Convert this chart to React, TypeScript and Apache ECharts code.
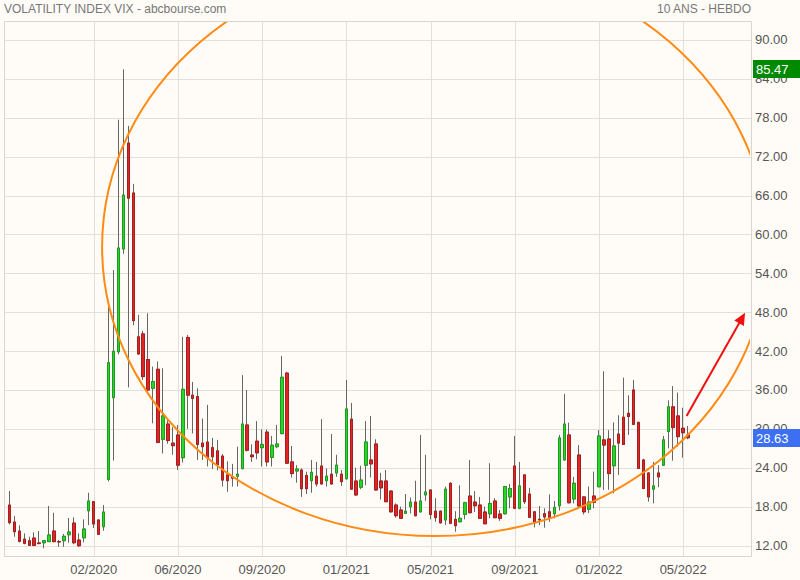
import React, { useEffect, useRef } from "react";
import * as echarts from "echarts";

// ---------- data ----------
const START_DATE_UTC = Date.UTC(2019, 9, 7); // first weekly bar
const WEEK_COUNT = 138;
const PAD_SLOTS = 12; // empty slots at the right of the chart
const LABEL_EVERY = 17;

const openV = [
  18.25, 15.63, 14.24, 13.0, 12.74, 13.16, 12.4, 12.43, 12.6, 14.24,
  12.6, 12.74, 13.67, 15.47, 12.85, 13.2, 17.37, 18.76, 15.94, 14.9,
  22.2, 34.8, 41.9, 57.75, 74.1, 66.4, 44.2, 44.65, 40.7, 36.26,
  39.2, 28.4, 30.75, 27.8, 29.06, 25.55, 44.1, 35.2, 35.0, 27.8,
  27.97, 27.1, 26.6, 25.8, 22.9, 22.6, 22.7, 23.85, 30.6, 25.97,
  28.1, 27.1, 29.5, 25.6, 27.25, 29.26, 38.6, 24.9, 23.5, 23.65,
  22.8, 22.0, 22.7, 24.27, 22.0, 23.0, 23.2, 23.0, 22.3, 31.5,
  21.96, 21.0, 24.4, 25.2, 27.67, 21.96, 21.96, 20.4, 18.25, 17.48,
  16.97, 17.99, 18.7, 17.2, 19.8, 20.57, 17.3, 17.3, 15.94, 21.6,
  16.04, 15.67, 16.8, 19.64, 18.7, 18.25, 17.17, 16.9, 18.87, 16.86,
  16.9, 19.5, 24.27, 17.74, 22.9, 19.95, 17.2, 16.05, 16.9, 17.2,
  16.9, 18.14, 25.2, 29.06, 19.18, 25.97, 19.5, 17.6, 19.64, 21.07,
  28.3, 28.44, 24.3, 29.2, 31.8, 32.4, 36.0, 31.0, 25.2, 23.2,
  20.7, 23.2, 24.4, 29.6, 33.4, 32.0, 30.1, 29.06,
];
const closeV = [
  15.52, 14.13, 12.65, 12.34, 12.03, 12.03, 12.3, 12.74, 13.62, 12.6,
  12.55, 13.42, 14.08, 12.43, 11.97, 14.55, 18.87, 15.32, 13.73, 17.17,
  40.2, 41.97, 57.9, 66.07, 65.6, 46.7, 41.56, 38.06, 36.0, 37.3,
  27.9, 32.0, 28.2, 27.4, 24.4, 36.1, 35.2, 34.7, 27.6, 27.25,
  25.55, 25.7, 24.5, 22.1, 22.0, 22.4, 23.0, 30.75, 26.7, 25.7,
  26.3, 27.6, 24.9, 27.47, 27.67, 37.96, 24.7, 23.1, 23.8, 20.77,
  20.77, 23.3, 21.5, 21.5, 22.7, 21.5, 24.4, 21.85, 33.07, 20.7,
  19.8, 22.1, 27.97, 24.6, 20.57, 20.9, 18.76, 17.2, 16.6, 16.2,
  17.3, 18.7, 16.6, 18.87, 20.26, 16.8, 16.3, 15.5, 20.7, 15.43,
  15.06, 16.2, 18.6, 17.06, 18.14, 16.2, 15.36, 18.5, 16.3, 16.2,
  21.1, 20.8, 17.74, 21.2, 18.76, 16.35, 15.5, 15.95, 16.4, 16.35,
  17.9, 28.6, 30.75, 18.6, 21.6, 18.1, 17.2, 18.7, 18.67, 28.9,
  27.5, 23.1, 27.36, 27.8, 27.6, 31.9, 30.7, 23.9, 20.8, 19.5,
  21.2, 22.6, 28.3, 33.4, 30.2, 28.8, 29.4, 28.63,
];
const lowV = [
  15.27, 13.36, 12.49, 12.18, 11.95, 11.9, 12.2, 11.57, 12.55, 12.5,
  11.8, 11.8, 12.43, 12.2, 11.8, 12.5, 15.16, 14.7, 13.67, 14.28,
  21.9, 25.1, 41.5, 57.0, 36.4, 46.0, 41.4, 37.55, 35.5, 30.86,
  27.8, 26.2, 27.7, 26.0, 23.65, 24.8, 30.0, 29.3, 25.2, 25.2,
  24.2, 23.8, 23.6, 21.1, 20.3, 21.1, 21.1, 23.8, 26.5, 24.9,
  25.3, 24.2, 24.2, 24.2, 27.0, 29.2, 24.6, 22.5, 21.7, 19.5,
  19.95, 20.15, 21.1, 21.4, 21.1, 21.4, 22.6, 21.2, 22.2, 20.6,
  19.7, 20.7, 21.3, 22.5, 20.5, 19.1, 18.7, 17.1, 16.3, 16.1,
  16.86, 16.97, 16.5, 17.1, 18.9, 16.04, 15.67, 15.4, 15.16, 15.3,
  14.13, 15.6, 16.04, 17.0, 17.17, 16.1, 15.3, 16.2, 16.2, 15.8,
  16.8, 17.74, 17.6, 17.6, 18.4, 16.3, 14.8, 15.16, 14.75, 15.67,
  16.2, 17.4, 25.1, 18.5, 18.5, 18.0, 16.8, 17.0, 17.74, 21.0,
  20.57, 20.6, 20.06, 22.9, 27.5, 29.06, 30.6, 23.8, 20.7, 18.76,
  18.5, 21.0, 24.3, 27.0, 25.1, 27.25, 25.55, 28.4,
];
const highV = [
  20.41, 16.55, 15.12, 13.88, 13.36, 14.04, 14.24, 12.85, 18.1, 17.06,
  12.85, 13.78, 16.25, 16.35, 13.88, 16.04, 20.15, 18.87, 16.09, 18.25,
  48.86, 54.5, 77.7, 85.47, 76.75, 67.8, 47.6, 45.1, 47.84, 39.6,
  40.4, 39.35, 31.4, 30.3, 30.6, 44.2, 44.5, 37.24, 36.26, 31.6,
  33.7, 28.6, 28.3, 26.1, 25.0, 24.6, 27.25, 38.3, 36.0, 27.6,
  31.2, 29.9, 29.9, 28.9, 30.6, 41.25, 38.8, 27.36, 24.4, 23.9,
  23.4, 25.2, 24.9, 31.5, 23.9, 29.2, 26.0, 23.65, 37.55, 34.0,
  24.0, 24.3, 31.2, 32.0, 28.4, 23.2, 23.65, 20.5, 18.5, 18.0,
  19.95, 19.4, 22.0, 29.06, 26.0, 20.6, 19.3, 17.4, 21.1, 21.76,
  17.3, 21.3, 18.76, 25.2, 20.4, 19.5, 18.0, 24.7, 19.3, 17.48,
  21.2, 21.5, 28.9, 24.9, 22.95, 20.9, 17.3, 18.1, 17.74, 19.9,
  18.87, 29.06, 35.4, 30.96, 22.6, 27.5, 19.6, 21.1, 23.4, 29.8,
  38.9, 29.8, 31.0, 32.1, 37.9, 35.2, 37.55, 31.1, 25.4, 23.3,
  24.9, 24.4, 28.9, 34.4, 36.6, 35.6, 33.27, 30.45,
];

const yTicks = [12, 18, 24, 30, 36, 42, 48, 54, 60, 66, 72, 78, 84, 90];
const Y_MIN = 10.23;
const Y_MAX = 92.93;

// annotation (ellipse + arrow) in data units: [bar index, value]
const ellipseCenter = [85.9, 58.06];
const ellipseRadius = [67.2, 44.6];
const arrowFrom = [136.7, 32.0];
const arrowTo = [148.5, 47.9];

const TITLE_LEFT = "VOLATILITY INDEX VIX - abcbourse.com";
const TITLE_RIGHT = "10 ANS - HEBDO";

// ---------- layout / style ----------
const W = 800;
const H = 580;
const BG = "#fffcf7";
const GRID_COLOR = "#e3dfda";
const FRAME = { left: 4, top: 21, right: 752, bottom: 557 };
const FONT = "'Liberation Sans', Arial, Helvetica, sans-serif";
const UP = "#2ad42a";
const UP_BORDER = "#1c9c1c";
const DOWN = "#e02525";
const DOWN_BORDER = "#a71c1c";
const WICK = "#666666";

const categories: string[] = [];
for (let i = 0; i < WEEK_COUNT; i++) {
  const d = new Date(START_DATE_UTC + i * 7 * 86400000);
  categories.push(d.toISOString().slice(0, 10));
}
for (let i = 0; i < PAD_SLOTS; i++) categories.push("pad" + i);
const SLOT_COUNT = categories.length;

const labelIndices: number[] = [];
for (let i = LABEL_EVERY; i < WEEK_COUNT; i += LABEL_EVERY) labelIndices.push(i);

export default function App() {
  const ref = useRef<HTMLDivElement>(null);

  useEffect(() => {
    if (!ref.current) return;
    const chart = echarts.init(ref.current, undefined, { renderer: "svg" });

    const candleData = openV.map((o, i) => [o, closeV[i], lowV[i], highV[i]]);
    const bodyData = openV.map((o, i) => [
      o,
      closeV[i],
      Math.min(o, closeV[i]),
      Math.max(o, closeV[i]),
    ]);

    const gridRender = (params: any, api: any) => {
      const children: any[] = [];
      yTicks.forEach((v) => {
        const y = Math.round(api.coord([0, v])[1]) + 0.5;
        children.push({
          type: "line",
          shape: { x1: FRAME.left, y1: y, x2: FRAME.right, y2: y },
          style: { stroke: GRID_COLOR, lineWidth: 1 },
        });
      });
      labelIndices.forEach((idx) => {
        const x = Math.round(api.coord([idx, 50])[0]) + 0.5;
        children.push({
          type: "line",
          shape: { x1: x, y1: FRAME.top, x2: x, y2: FRAME.bottom },
          style: { stroke: GRID_COLOR, lineWidth: 1 },
        });
      });
      return { type: "group", children };
    };

    const overlayRender = (params: any, api: any) => {
      if (params.dataIndex === 0) {
        const c = api.coord(ellipseCenter);
        const p = api.coord([
          ellipseCenter[0] + ellipseRadius[0],
          ellipseCenter[1] - ellipseRadius[1],
        ]);
        return {
          type: "ellipse",
          shape: { cx: c[0], cy: c[1], rx: p[0] - c[0], ry: p[1] - c[1] },
          style: { fill: "none", stroke: "#ff8a14", lineWidth: 2 },
        };
      }
      const a = api.coord(arrowFrom);
      const b = api.coord(arrowTo);
      const dx = b[0] - a[0];
      const dy = b[1] - a[1];
      const len = Math.sqrt(dx * dx + dy * dy);
      const ux = dx / len;
      const uy = dy / len;
      const headL = 12;
      const headW = 5.5;
      const bx = b[0] - ux * headL;
      const by = b[1] - uy * headL;
      return {
        type: "group",
        children: [
          {
            type: "line",
            shape: { x1: a[0], y1: a[1], x2: bx + ux * 2, y2: by + uy * 2 },
            style: { stroke: "#f01010", lineWidth: 2 },
          },
          {
            type: "polygon",
            shape: {
              points: [
                [b[0], b[1]],
                [bx - uy * headW, by + ux * headW],
                [bx + uy * headW, by - ux * headW],
              ],
            },
            style: { fill: "#f01010" },
          },
        ],
      };
    };

    const gridLeft = 7;
    const gridWidth = 743;

    chart.setOption({
      animation: false,
      backgroundColor: BG,
      grid: {
        left: gridLeft,
        top: FRAME.top,
        width: gridWidth,
        height: FRAME.bottom - FRAME.top,
        containLabel: false,
      },
      xAxis: [
        {
          type: "category",
          data: categories,
          boundaryGap: true,
          axisLine: { show: false },
          axisTick: { show: false },
          splitLine: { show: false },
          axisLabel: {
            interval: (index: number) =>
              index > 0 && index < WEEK_COUNT && index % LABEL_EVERY === 0,
            formatter: (v: string) => {
              const parts = v.split("-");
              return parts[1] + "/" + parts[0];
            },
            color: "#555555",
            fontSize: 13,
            fontFamily: FONT,
            margin: 6,
          },
        },
        {
          type: "value",
          min: -0.5,
          max: SLOT_COUNT - 0.5,
          show: false,
        },
      ],
      yAxis: {
        type: "value",
        position: "right",
        min: Y_MIN,
        max: Y_MAX,
        axisLine: { show: false },
        axisTick: { show: false },
        splitLine: { show: false },
        axisLabel: {
          customValues: yTicks,
          formatter: (v: number) => v.toFixed(2),
          color: "#555555",
          fontSize: 13,
          fontFamily: FONT,
          margin: 5,
          padding: [0, 0, 4, 0],
        },
      },
      series: [
        {
          type: "custom",
          xAxisIndex: 1,
          z: 1,
          silent: true,
          clip: false,
          renderItem: gridRender,
          data: [[0, 50]],
        },
        {
          type: "candlestick",
          xAxisIndex: 0,
          z: 2,
          barWidth: 3,
          silent: true,
          itemStyle: {
            color: WICK,
            color0: WICK,
            borderColor: WICK,
            borderColor0: WICK,
            borderColorDoji: WICK,
            borderWidth: 1,
          },
          data: candleData,
        },
        {
          type: "candlestick",
          xAxisIndex: 0,
          z: 3,
          barWidth: 3,
          silent: true,
          itemStyle: {
            color: UP,
            color0: DOWN,
            borderColor: UP_BORDER,
            borderColor0: DOWN_BORDER,
            borderColorDoji: DOWN_BORDER,
            borderWidth: 1,
          },
          data: bodyData,
        },
        {
          type: "custom",
          xAxisIndex: 1,
          z: 5,
          silent: true,
          clip: true,
          renderItem: overlayRender,
          data: [ellipseCenter, arrowTo],
        },
      ],
    });

    const maxHigh = Math.max(...highV);
    const lastClose = closeV[closeV.length - 1];
    const yMax = chart.convertToPixel({ yAxisIndex: 0 }, maxHigh) as number;
    const yLast = chart.convertToPixel({ yAxisIndex: 0 }, lastClose) as number;

    const tag = (y: number, value: number, color: string) => ({
      type: "group",
      x: FRAME.right + 1,
      y: Math.round(y) - 9,
      z: 50,
      children: [
        {
          type: "rect",
          shape: { x: 0, y: 0, width: W - FRAME.right - 1, height: 18 },
          style: { fill: color },
          z: 50,
        },
        {
          type: "text",
          x: 3,
          y: 9.5,
          z: 51,
          style: {
            text: value.toFixed(2),
            fill: "#ffffff",
            font: "13px " + FONT,
            textVerticalAlign: "middle",
            verticalAlign: "middle",
          },
        },
      ],
    });

    chart.setOption({
      graphic: [
        {
          type: "rect",
          z: 40,
          silent: true,
          shape: {
            x: FRAME.left + 0.5,
            y: FRAME.top + 0.5,
            width: FRAME.right - FRAME.left - 1,
            height: FRAME.bottom - FRAME.top - 1,
          },
          style: { fill: "none", stroke: "#d9d6d2", lineWidth: 1 },
        },
        {
          type: "text",
          x: 4,
          y: 9,
          z: 50,
          style: {
            text: TITLE_LEFT,
            fill: "#777777",
            font: "12px " + FONT,
            textVerticalAlign: "middle",
            verticalAlign: "middle",
          },
        },
        {
          type: "text",
          x: 751,
          y: 9,
          z: 50,
          style: {
            text: TITLE_RIGHT,
            fill: "#777777",
            font: "12px " + FONT,
            textAlign: "right",
            align: "right",
            textVerticalAlign: "middle",
            verticalAlign: "middle",
          },
        },
        tag(yMax, maxHigh, "#008a00"),
        tag(yLast, lastClose, "#3d6ff2"),
      ],
    });

    return () => {
      chart.dispose();
    };
  }, []);

  return (
    <div
      style={{
        position: "absolute",
        left: 0,
        top: 0,
        width: W,
        height: H,
        background: BG,
      }}
    >
      <div ref={ref} style={{ width: W, height: H }} />
    </div>
  );
}
